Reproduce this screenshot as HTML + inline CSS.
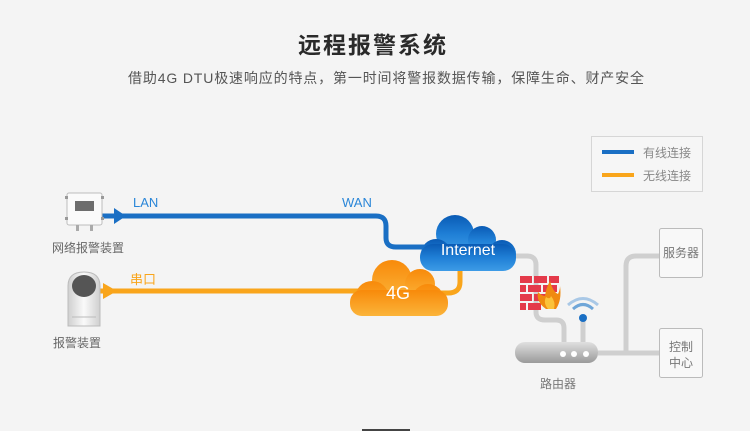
<!DOCTYPE html>
<html><head><meta charset="utf-8"><style>
html,body{margin:0;padding:0;background:#f4f4f4;}
svg{display:block;font-family:"Liberation Sans","Noto Sans CJK SC",sans-serif;}
</style></head><body>
<svg width="750" height="431" viewBox="0 0 750 431" xmlns="http://www.w3.org/2000/svg">
<defs>
<linearGradient id="bc" x1="0" y1="0" x2="0" y2="1"><stop offset="0" stop-color="#0a5bb5"/><stop offset="0.5" stop-color="#1f7fd6"/><stop offset="1" stop-color="#3d9be6"/></linearGradient>
<linearGradient id="oc" x1="0" y1="0" x2="0" y2="1"><stop offset="0" stop-color="#f88a0a"/><stop offset="1" stop-color="#fbb43a"/></linearGradient>
<linearGradient id="rt" x1="0" y1="0" x2="0" y2="1"><stop offset="0" stop-color="#e0e0e0"/><stop offset="1" stop-color="#9a9a9a"/></linearGradient>
<linearGradient id="cam" x1="0" y1="0" x2="1" y2="0"><stop offset="0" stop-color="#cfcfcf"/><stop offset="0.5" stop-color="#fafafa"/><stop offset="1" stop-color="#cfcfcf"/></linearGradient>
</defs>
<rect width="750" height="431" fill="#f4f4f4"/>
<rect x="362" y="429" width="48" height="2" fill="#444"/>
<text x="372" y="53" font-size="23" font-weight="bold" fill="#2a2a2a" text-anchor="middle" textLength="148">远程报警系统</text>
<text x="386" y="83" font-size="14" fill="#555" text-anchor="middle" textLength="516">借助4G DTU极速响应的特点，第一时间将警报数据传输，保障生命、财产安全</text>
<!-- legend -->
<rect x="591.5" y="136.5" width="111" height="55" fill="#f6f6f6" stroke="#d6d6d6"/>
<rect x="602" y="150" width="32" height="4" fill="#1a6fc4"/>
<rect x="602" y="173" width="32" height="4" fill="#f9a51b"/>
<text x="643" y="157" font-size="12" fill="#888">有线连接</text>
<text x="643" y="180" font-size="12" fill="#888">无线连接</text>
<!-- gray lines -->
<g fill="none" stroke="#cfcfcf" stroke-width="5">
<path d="M512 256 H527 Q536 256 536 265 V312 Q536 320 545 320 H556 Q564 320 564 328 V344"/>
<path d="M598 353 H659"/>
<path d="M626 353 V266 Q626 256 636 256 H659"/>
<path d="M583 315 V344"/>
</g>
<!-- blue line -->
<g fill="none" stroke="#1a6fc4" stroke-width="5">
<path d="M100 216 H376 Q386 216 386 226 V238 Q386 247 396 247 H432"/>
</g>
<polygon points="114,208 114,224 126,216" fill="#1a6fc4"/>
<text x="133" y="207" font-size="13" fill="#2a86d8">LAN</text>
<text x="342" y="207" font-size="13" fill="#2a86d8">WAN</text>
<!-- orange line -->
<g fill="none" stroke="#f9a51b" stroke-width="5">
<path d="M100 291 H360"/>
<path d="M460 268 V282 Q460 293 448 293 H440"/>
</g>
<polygon points="103,283 103,299 117,291" fill="#f9a51b"/>
<text x="130" y="284" font-size="13" fill="#f9a51b">串口</text>
<!-- device 1 -->
<rect x="67" y="193" width="35" height="32" rx="2" fill="#fafafa" stroke="#bdbdbd"/>
<rect x="75" y="201" width="19" height="10" fill="#6d6d6d"/>
<rect x="65" y="196" width="3" height="3" fill="#999"/><rect x="101" y="196" width="3" height="3" fill="#999"/>
<rect x="65" y="217" width="3" height="3" fill="#999"/><rect x="101" y="217" width="3" height="3" fill="#999"/>
<rect x="76" y="225" width="3" height="6" fill="#aaa"/><rect x="90" y="225" width="3" height="6" fill="#aaa"/>
<text x="88" y="252" font-size="12" fill="#666" text-anchor="middle">网络报警装置</text>
<!-- device 2 -->
<path d="M68 286 Q68 272 84 272 Q100 272 100 286 V326 H68 Z" fill="url(#cam)" stroke="#bbb"/>
<ellipse cx="84" cy="286" rx="12" ry="11" fill="#555"/>
<line x1="72" y1="317" x2="96" y2="317" stroke="#bbb"/>
<text x="77" y="347" font-size="12" fill="#666" text-anchor="middle">报警装置</text>
<!-- 4G cloud -->
<g fill="url(#oc)">
<circle cx="392" cy="280" r="20"/><circle cx="420" cy="284" r="15"/>
<circle cx="372" cy="298" r="17"/><circle cx="428" cy="300" r="16"/>
<rect x="350" y="290" width="98" height="26" rx="12"/>
</g>
<text x="398" y="299" font-size="18" fill="#fff" text-anchor="middle">4G</text>
<!-- Internet cloud -->
<g fill="url(#bc)">
<circle cx="455" cy="234" r="19"/><circle cx="482" cy="240" r="14"/>
<circle cx="436" cy="254" r="15"/><circle cx="502" cy="254" r="14"/>
<rect x="420" y="244" width="96" height="27" rx="13"/>
</g>
<text x="468" y="255" font-size="16" fill="#fff" text-anchor="middle">Internet</text>
<!-- firewall -->
<g fill="#e43a4a">
<rect x="520" y="276" width="12" height="7"/><rect x="534" y="276" width="13" height="7"/><rect x="549" y="276" width="10" height="7"/>
<rect x="520" y="285" width="6" height="7"/><rect x="528" y="285" width="13" height="7"/><rect x="543" y="285" width="14" height="7"/>
<rect x="520" y="294" width="12" height="7"/><rect x="534" y="294" width="13" height="7"/>
<rect x="520" y="303" width="6" height="7"/><rect x="528" y="303" width="13" height="7"/>
</g>
<path d="M546 309 Q536 302 538 292 Q542 296 545 296 Q546 288 550 281 Q553 292 558 294 Q560 290 560 286 Q562 300 556 309 Z" fill="#f08a10"/>
<path d="M548 309 Q543 303 546 297 Q550 300 551 296 Q556 302 554 309 Z" fill="#fbc23a"/>
<!-- wifi -->
<circle cx="583" cy="318" r="4" fill="#1a6fc4"/>
<path d="M573 309 Q583 300 593 309" fill="none" stroke="#6fa6d8" stroke-width="3"/>
<path d="M568 305 Q583 292 598 305" fill="none" stroke="#a9c8e6" stroke-width="3"/>
<!-- router -->
<rect x="515" y="342" width="83" height="21" rx="10" fill="url(#rt)"/>
<circle cx="563" cy="354" r="3" fill="#fff"/><circle cx="574" cy="354" r="3" fill="#fff"/><circle cx="586" cy="354" r="3" fill="#fff"/>
<text x="558" y="388" font-size="12" fill="#777" text-anchor="middle">路由器</text>
<!-- servers -->
<rect x="659.5" y="228.5" width="43" height="49" rx="2" fill="#f8f8f8" stroke="#bbb"/>
<text x="681" y="257" font-size="12" fill="#777" text-anchor="middle">服务器</text>
<rect x="659.5" y="328.5" width="43" height="49" rx="2" fill="#f8f8f8" stroke="#bbb"/>
<text x="681" y="351" font-size="12" fill="#777" text-anchor="middle">控制</text>
<text x="681" y="367" font-size="12" fill="#777" text-anchor="middle">中心</text>
</svg>
</body></html>
